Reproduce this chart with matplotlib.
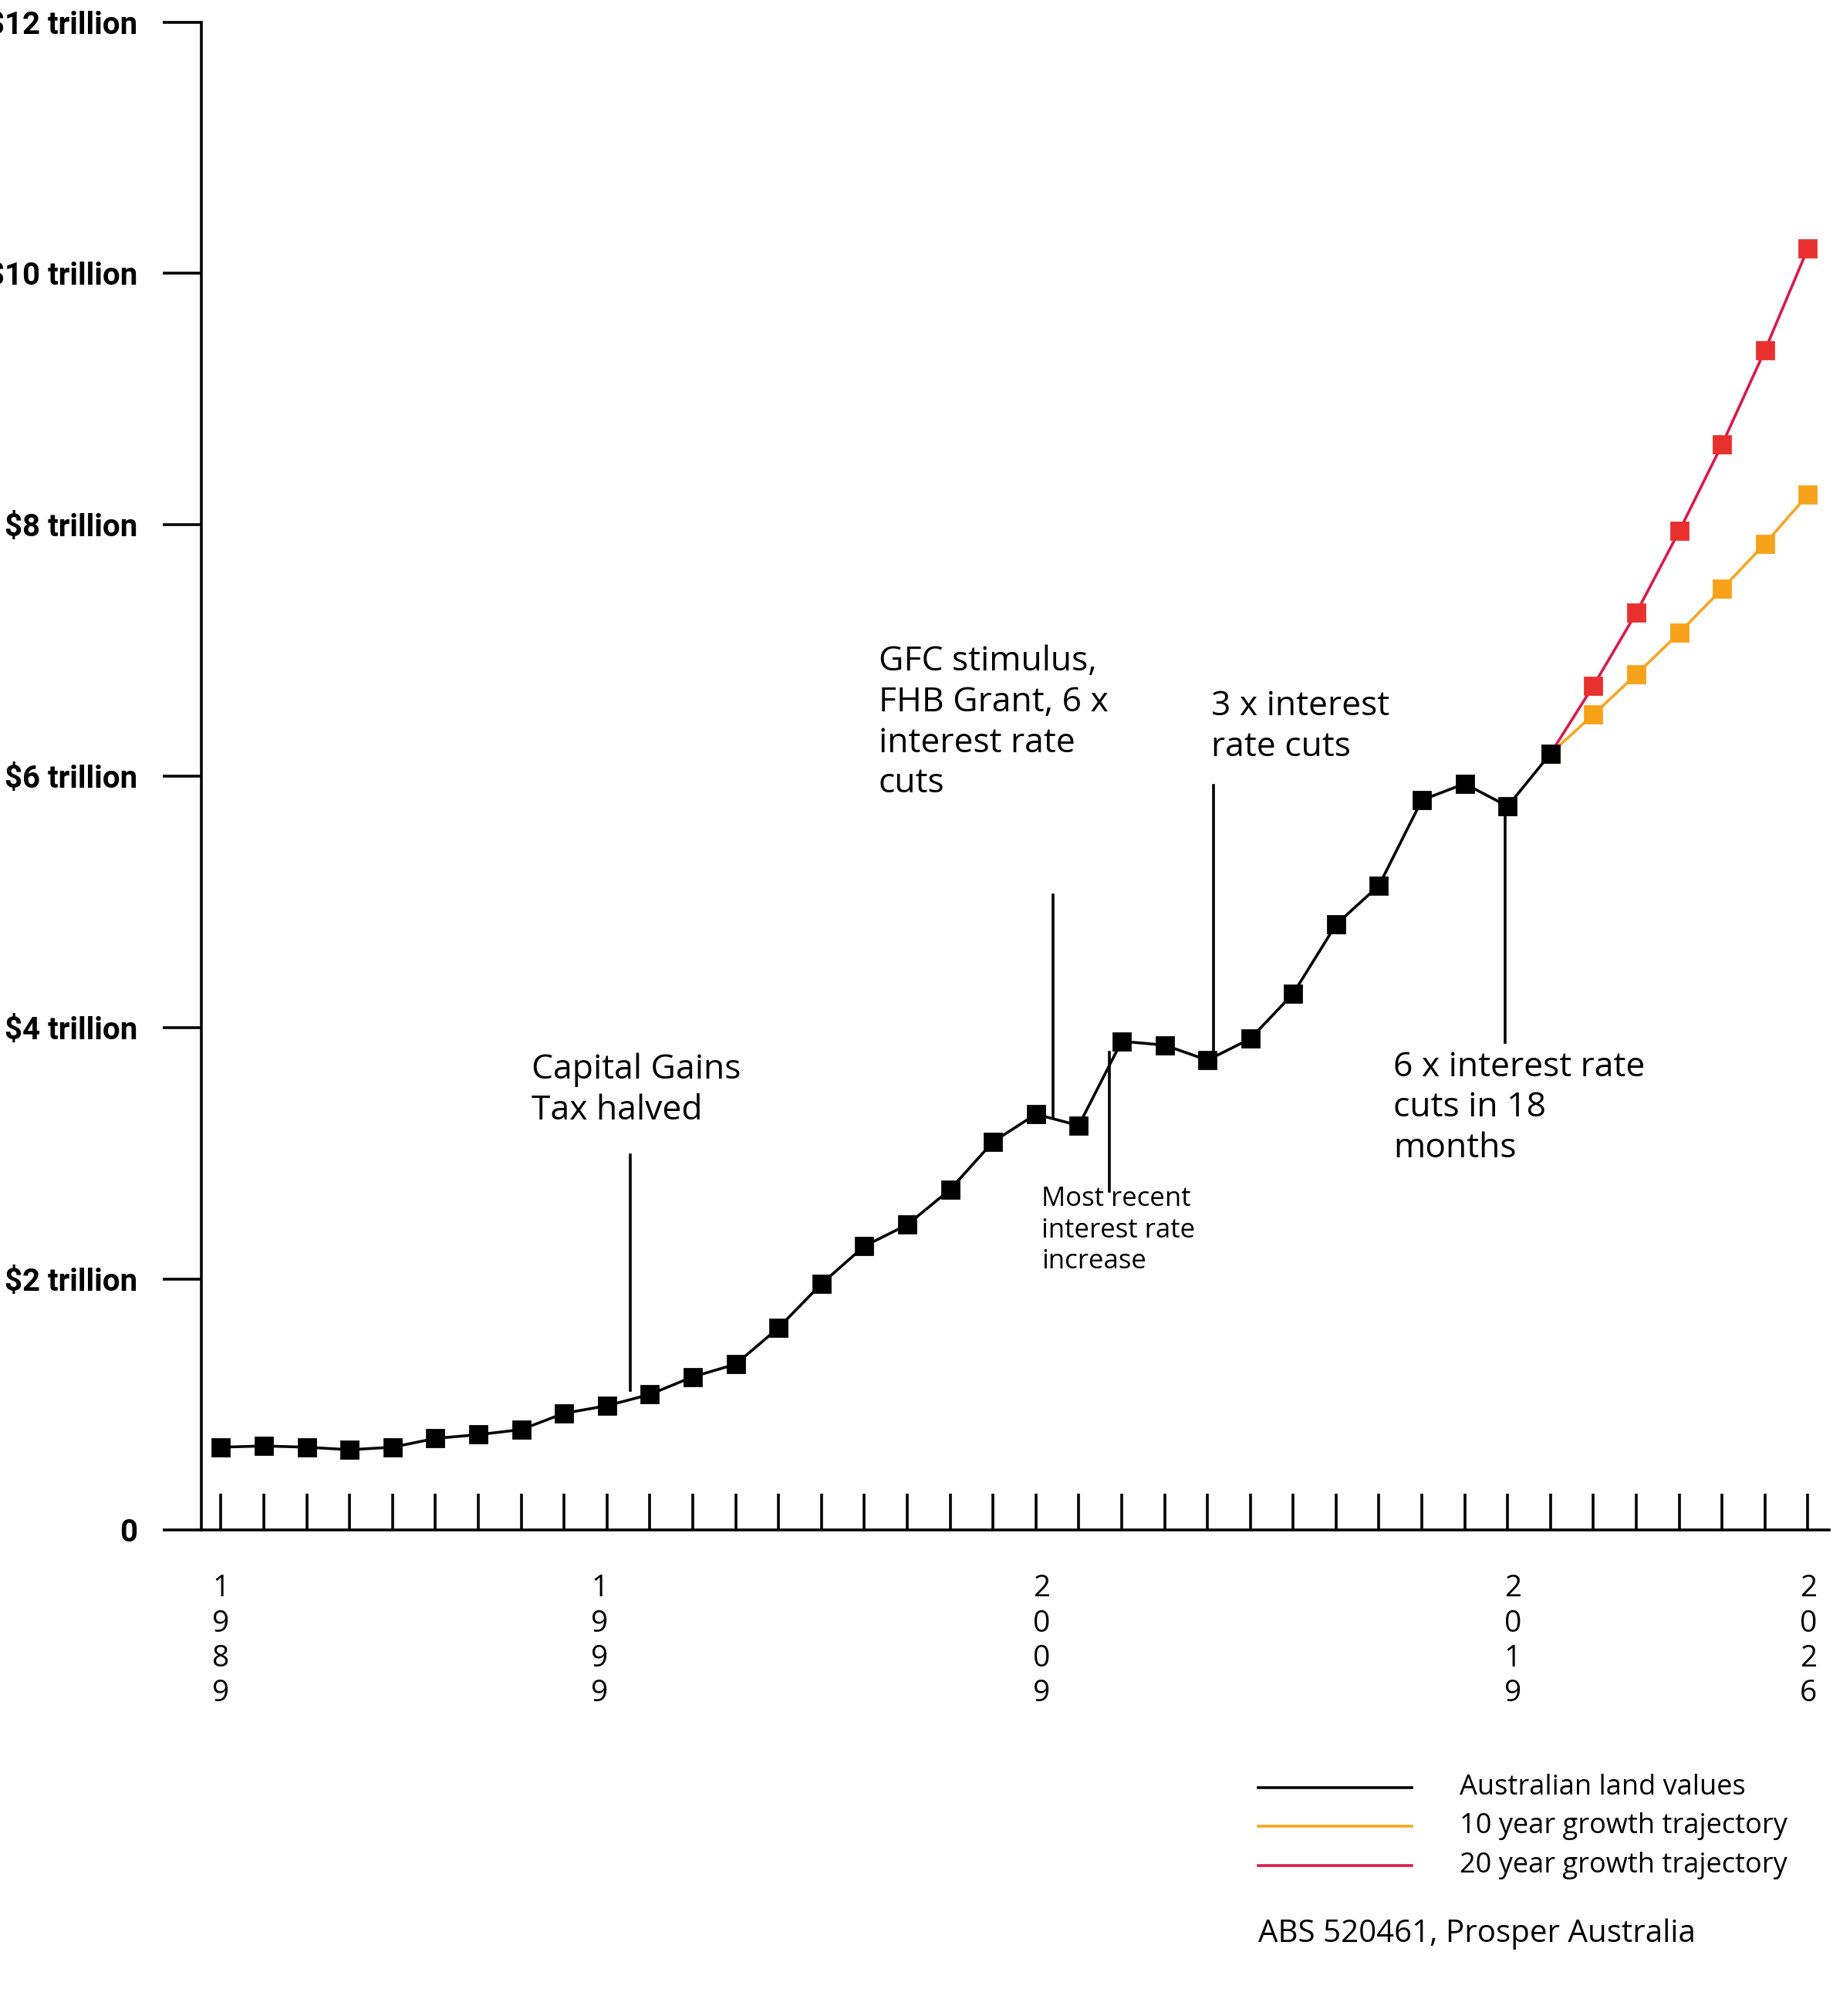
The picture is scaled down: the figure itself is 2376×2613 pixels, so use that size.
import numpy as np
import matplotlib.pyplot as plt

# land values in $ trillion
years = np.arange(1989, 2021)
land = [0.66, 0.67, 0.66, 0.64, 0.66, 0.73, 0.76, 0.80, 0.93, 0.99, 1.08, 1.22,
        1.32, 1.61, 1.96, 2.26, 2.43, 2.71, 3.09, 3.31, 3.22, 3.89, 3.86, 3.74,
        3.91, 4.27, 4.82, 5.13, 5.81, 5.94, 5.76, 6.18]
proj_years = np.arange(2020, 2027)
ten_year = [6.18, 6.49, 6.81, 7.14, 7.49, 7.85, 8.24]
twenty_year = [6.18, 6.72, 7.30, 7.95, 8.64, 9.39, 10.20]

ytick_vals = [0, 2, 4, 6, 8, 10, 12]
ytick_labels = ["0", r"\$2 trillion", r"\$4 trillion", r"\$6 trillion", r"\$8 trillion",
                r"\$10 trillion", r"\$12 trillion"]
xlabels = ["1989", "1999", "2009", "2019", "2026"]
xlabel_px = [172, 467, 811, 1178, 1408]

txt_font = ["Open Sans", "DejaVu Sans"]
num_font = ["Roboto", "DejaVu Sans"]

fig = plt.figure(figsize=(11.88, 13.065), dpi=200)
ax = fig.add_axes([0.110, 0.241, 0.888, 0.748])

ax.plot(proj_years, twenty_year, color="#d81b4a", lw=1.3, marker="s", ms=8,
        mfc="#e8312f", mec="#e8312f", zorder=2)
ax.plot(proj_years, ten_year, color="#f5a623", lw=1.3, marker="s", ms=8,
        mfc="#f7a21b", mec="#f7a21b", zorder=2)
ax.plot(years, land, color="black", lw=1.3, marker="s", ms=8, zorder=3)

ax.set_xlim(1988.55, 2026.5)
ax.set_ylim(0, 12)
for s in ["top", "right"]:
    ax.spines[s].set_visible(False)
ax.spines["left"].set_linewidth(1.3)
ax.spines["bottom"].set_linewidth(1.3)

ax.set_yticks(ytick_vals)
ax.set_yticklabels(ytick_labels, fontfamily=num_font, fontweight="bold", fontsize=14.5)
ax.tick_params(axis="y", direction="out", length=18, width=1.3, pad=12)

ax.set_xticks(np.arange(1989, 2027))
ax.set_xticklabels([])
ax.tick_params(axis="x", direction="in", length=17, width=1.3)

def yr(px):
    return 1989 + (px - 172) / 33.4

def val(py):
    return (1192 - py) / 97.9

for px, lab in zip(xlabel_px, xlabels):
    ax.text(yr(px), -0.35, "\n".join(lab), ha="center", va="top",
            fontsize=14, family=txt_font, linespacing=1.25)

# annotation leader lines
for x, y0, y1 in [(491, 900, 1083), (820, 697, 870), (864, 820, 928),
                  (945, 612, 826), (1172, 628, 812)]:
    ax.plot([yr(x), yr(x)], [val(y0), val(y1)], color="black", lw=1.3, zorder=1)

notes = [(414, 820, "Capital Gains\nTax halved", 16),
         (684, 502, "GFC stimulus,\nFHB Grant, 6 x\ninterest rate\ncuts", 16),
         (943, 537, "3 x interest\nrate cuts", 16),
         (811, 924, "Most recent\ninterest rate\nincrease", 12.5),
         (1085, 818, "6 x interest rate\ncuts in 18\nmonths", 16)]
for x, y, t, fs in notes:
    ax.text(yr(x), val(y), t, ha="left", va="top", fontsize=fs,
            family=txt_font, linespacing=1.25)

# legend drawn by hand in figure coords
W, H = 1428, 1570
leg = [("Australian land values", "black", 1392),
       ("10 year growth trajectory", "#f5a623", 1422),
       ("20 year growth trajectory", "#d81b4a", 1453)]
for label, c, y in leg:
    fig.add_artist(plt.Line2D([980 / W, 1100 / W], [1 - y / H, 1 - y / H],
                              color=c, lw=1.3))
    fig.text(1137 / W, 1 - y / H, label, va="center", ha="left",
             fontsize=13, family=txt_font)
fig.text(980 / W, 1 - 1506 / H, "ABS 520461, Prosper Australia", va="center",
         ha="left", fontsize=14.5, family=txt_font)

fig.savefig("out.png", dpi=200, facecolor="white")
